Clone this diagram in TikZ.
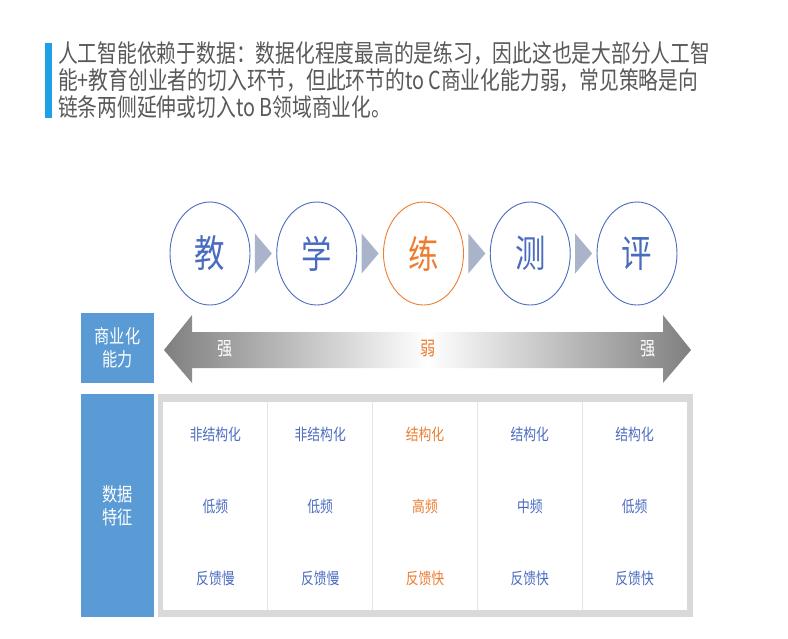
\documentclass[tikz,border=0pt]{standalone}
\usepackage{fontspec}
\setmainfont{Noto Sans CJK SC}[FakeStretch=0.8]
\usetikzlibrary{shapes.geometric,calc}
\definecolor{cblue}{HTML}{4A6CC0}
\definecolor{corange}{HTML}{ED7D31}
\definecolor{boxblue}{HTML}{5B9BD5}
\definecolor{titlebar}{HTML}{1EA0E6}
\definecolor{titlegray}{HTML}{595959}
\definecolor{framegray}{HTML}{D9D9D9}
\definecolor{sepgray}{HTML}{E3E3E3}
\definecolor{trigray}{HTML}{A9B3C9}
\definecolor{arrgray}{HTML}{7F7F7F}
\tikzset{
  titleline/.style={anchor=base west, inner sep=0pt, text=titlegray, font=\fontsize{24.7}{27.5}\selectfont},
  stage/.style={ellipse, draw=cblue, text=cblue, minimum width=80pt, minimum height=103pt, inner sep=0pt, line width=0.9pt, font=\fontsize{38}{40}\selectfont},
  hot/.style={draw=corange, text=corange},
  tri/.style={fill=trigray},
  bluebox/.style={fill=boxblue, text=white, minimum width=73pt, inner sep=0pt, align=center, font=\fontsize{19}{23}\selectfont},
  arrlabel/.style={text=white, inner sep=0pt, font=\fontsize{19}{22}\selectfont},
  cell/.style={inner sep=0pt, font=\fontsize{16}{18}\selectfont},
}
\begin{document}
\begin{tikzpicture}[x=1pt,y=-1pt]
\useasboundingbox[fill=white] (0,0) rectangle (788,638);
% title
\fill[titlebar] (45,43) rectangle (52,118);
\node[titleline] (t1) at (58,62) {人工智能依赖于数据：数据化程度最高的是练习，因此这也是大部分人工智};
\node[titleline] (t2) at (58,89) {能+教育创业者的切入环节，但此环节的to C商业化能力弱，常见策略是向};
\node[titleline] (t3) at (58,116) {链条两侧延伸或切入to B领域商业化。};
% stages
\node[stage] (s1) at (210,253.5) {教};
\node[stage] (s2) at (316.75,253.5) {学};
\node[stage,hot] (s3) at (423.5,253.5) {练};
\node[stage] (s4) at (530.25,253.5) {测};
\node[stage] (s5) at (637,253.5) {评};
\foreach \a/\b in {s1/s2,s2/s3,s3/s4,s4/s5}{
  \coordinate (m\a) at ($(\a)!0.5!(\b)$);
  \fill[tri] ($(m\a)+(-8.5,-20)$) -- ($(m\a)+(8.5,0)$) -- ($(m\a)+(-8.5,20)$) -- cycle;
}
% commercial capability row
\node[bluebox, minimum height=70pt] (cap) at (117.5,348) {商业化\\能力};
\shade[left color=arrgray, right color=arrgray, middle color=white]
  (164,350) -- (192,315) -- (192,332) -- (663,332) -- (663,315) -- (691,350)
  -- (663,383) -- (663,368) -- (192,368) -- (192,383) -- cycle;
\node[arrlabel] (l1) at (225,349) {强};
\node[arrlabel, text=corange] (l2) at (428,349) {弱};
\node[arrlabel] (l3) at (648,349) {强};
% data features
\node[bluebox, minimum height=223pt] (data) at (117.5,505.5) {数据\\特征};
\node[fill=framegray, inner sep=0pt, minimum width=535pt, minimum height=223pt] (frame) at (425.5,505.5) {};
\node[fill=white, inner sep=0pt, minimum width=524pt, minimum height=208pt] (inner) at (425,505.5) {};
\foreach \k in {1,2,3,4}{
  \draw[sepgray, line width=0.8pt] ($(inner.north west)!\k/5!(inner.north east)$) -- ($(inner.south west)!\k/5!(inner.south east)$);
}
\foreach \i/\a/\b/\c/\col in {1/非结构化/低频/反馈慢/cblue, 2/非结构化/低频/反馈慢/cblue, 3/结构化/高频/反馈快/corange, 4/结构化/中频/反馈快/cblue, 5/结构化/低频/反馈快/cblue}{
  \node[cell, text=\col] (ra\i) at (163+104.8*\i-52.4,434) {\a};
  \node[cell, text=\col] (rb\i) at (163+104.8*\i-52.4,506) {\b};
  \node[cell, text=\col] (rc\i) at (163+104.8*\i-52.4,578) {\c};
}
\end{tikzpicture}
\end{document}
